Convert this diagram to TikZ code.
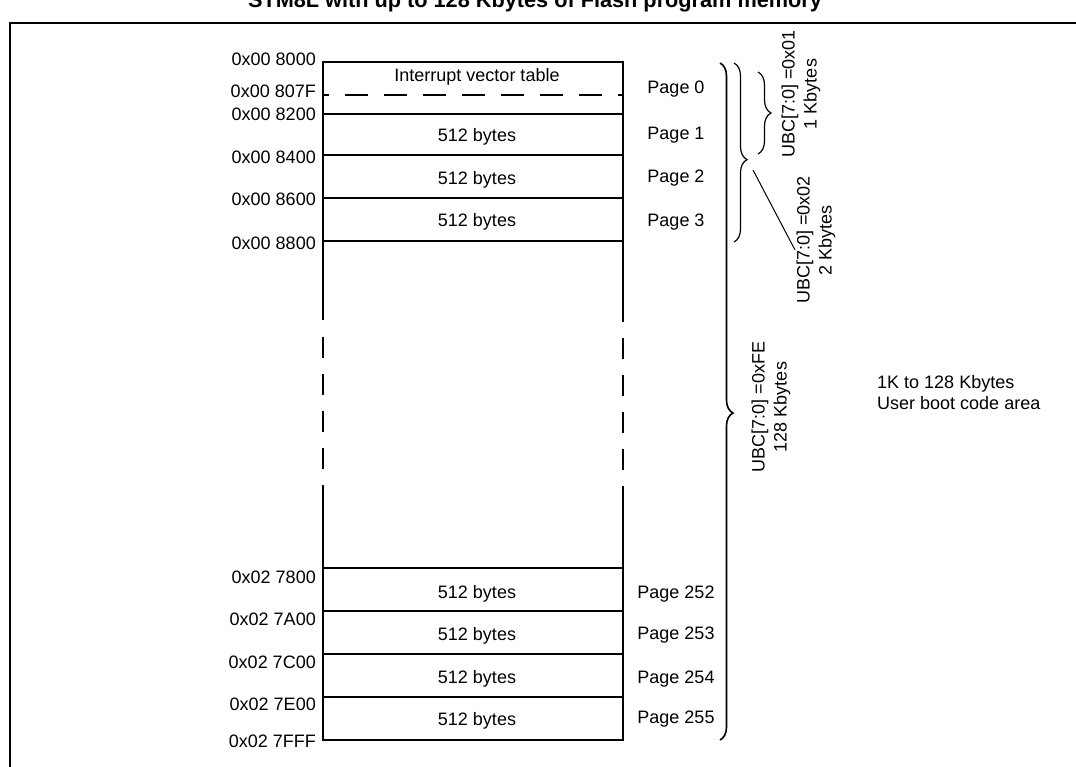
\documentclass[tikz,border=0pt]{standalone}
\usepackage{fontspec}
\setmainfont{Liberation Sans}
\usetikzlibrary{decorations.pathreplacing}
\begin{document}
\begin{tikzpicture}[x=1pt,y=-1pt,
  txt/.style={font=\fontsize{18}{21}\selectfont, inner sep=0pt, text height=12.9pt, text depth=0pt},
  addr/.style={txt, anchor=east},
  rot/.style={font=\fontsize{18}{22}\selectfont, inner sep=0pt, rotate=90, align=center},
  frameline/.style={line width=2pt},
  cell/.style={line width=2pt},
  brc/.style={decorate, decoration={brace, amplitude=13pt}, line width=1.2pt},
  leader/.style={line width=1pt}
]
\useasboundingbox (0,0) rectangle (1076,767);
\fill[white] (0,0) rectangle (1076,767);
% title (cropped at top)
\node[font=\bfseries\fontsize{21.7}{24}\selectfont, anchor=base, inner sep=0pt] (title) at (535,8) {STM8L with up to 128 Kbytes of Flash program memory};
% frame
\draw[frameline] (10,770) -- (10,23) -- (1080,23);
% upper table
\draw[cell] (323,312) -- (323,62) -- (623,62) -- (623,322);
\draw[cell] (323,310) -- (323,320);
\foreach \y in {114,155,198,241} \draw[cell] (323,\y) -- (623,\y);
\draw[cell, dash pattern=on 23pt off 16pt, dash phase=17pt] (323,95) -- (623,95);
% broken sides
\foreach \y in {337,374,411,448} {
  \draw[cell] (323,\y) -- (323,\y+21);
  \draw[cell] (623,\y+1) -- (623,\y+22);
}
% lower table
\draw[cell] (323,485) -- (323,740) -- (623,740) -- (623,486);
\foreach \y in {568,611,654,697} \draw[cell] (323,\y) -- (623,\y);
% cell texts
\node[txt] (ivt) at (477,75) {Interrupt vector table};
\node[txt] (b1) at (477,135) {512 bytes};
\node[txt] (b2) at (477,178) {512 bytes};
\node[txt] (b3) at (477,220) {512 bytes};
\node[txt] (b252) at (477,592) {512 bytes};
\node[txt] (b253) at (477,634) {512 bytes};
\node[txt] (b254) at (477,677) {512 bytes};
\node[txt] (b255) at (477,719) {512 bytes};
% page labels
\node[txt] (p0) at (676,87) {Page 0};
\node[txt] (p1) at (676,133) {Page 1};
\node[txt] (p2) at (676,176) {Page 2};
\node[txt] (p3) at (676,220) {Page 3};
\node[txt] (p252) at (676,592) {Page 252};
\node[txt] (p253) at (676,633) {Page 253};
\node[txt] (p254) at (676,677) {Page 254};
\node[txt] (p255) at (676,717) {Page 255};
% addresses
\node[addr] (a8000) at (316,59) {0x00 8000};
\node[addr] (a807F) at (316,91) {0x00 807F};
\node[addr] (a8200) at (316,114) {0x00 8200};
\node[addr] (a8400) at (316,157) {0x00 8400};
\node[addr] (a8600) at (316,199) {0x00 8600};
\node[addr] (a8800) at (316,243) {0x00 8800};
\node[addr] (a7800) at (316,577) {0x02 7800};
\node[addr] (a7A00) at (316,619) {0x02 7A00};
\node[addr] (a7C00) at (316,662) {0x02 7C00};
\node[addr] (a7E00) at (316,704) {0x02 7E00};
\node[addr] (a7FFF) at (316,741) {0x02 7FFF};
% braces
\draw[brc, line width=1.6pt, decoration={brace, amplitude=13pt, aspect=0.517}] (720,63) -- (720,740);
\draw[brc, decoration={brace, amplitude=13pt, aspect=0.54}] (734,63) -- (734,242);
\draw[brc] (758,72) -- (758,154);
% leader
\coordinate (ldA) at (753,170);
\coordinate (ldB) at (795,250);
\draw[leader] (ldA) -- (ldB);
% rotated labels
\node[rot] (ubc1) at (801,94) {UBC[7:0] =0x01\\1 Kbytes};
\node[rot] (ubc2) at (816,240) {UBC[7:0] =0x02\\2 Kbytes};
\node[rot] (ubcFE) at (771,407) {UBC[7:0] =0xFE\\128 Kbytes};
% area label
\node[font=\fontsize{18}{21}\selectfont, align=left, anchor=west, inner sep=0pt] (area) at (877,393) {1K to 128 Kbytes\\User boot code area};
\end{tikzpicture}
\end{document}
